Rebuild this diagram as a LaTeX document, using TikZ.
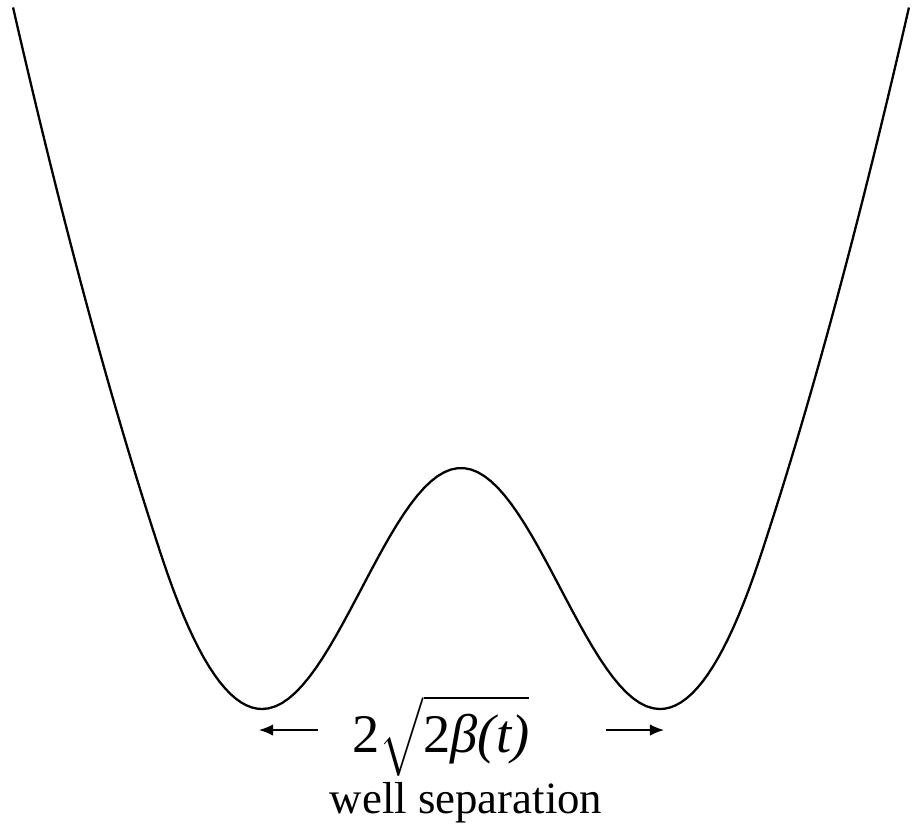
\documentclass[tikz,border=0pt]{standalone}
\usepackage{amsmath}
\usepackage{fontspec}
\setmainfont{Liberation Serif}
\usetikzlibrary{arrows.meta}

\tikzset{
  potential/.style={line width=1.3pt,black,line join=round},
  sep arrow/.style={line width=0.9pt,-{Latex[length=8pt,width=6.5pt]}},
}

\begin{document}
\begin{tikzpicture}[x=0.02cm,y={(0cm,-0.02cm)}]
    \useasboundingbox (0,0) rectangle (915,836);

    % Double well potential (wells at s=-1 and s=1, barrier at s=0)
    \draw[potential]
      plot[domain=2.251:1.5,samples=30] ({461-199*\x},{559-600*(\x-1.5)-179*(\x-1.5)*(\x-1.5)})
      -- plot[domain=1.5:1,samples=20] ({461-199*\x},{709-600*(\x-1)*(\x-1)})
      -- plot[domain=-1:1,samples=60] ({461+199*\x},{709-120.5*(1+cos(180*\x))})
      -- plot[domain=1:1.5,samples=20] ({461+199*\x},{709-600*(\x-1)*(\x-1)})
      -- plot[domain=1.5:2.251,samples=30] ({461+199*\x},{559-600*(\x-1.5)-179*(\x-1.5)*(\x-1.5)});

    % Separation label
    \node[anchor=base,inner sep=0pt,font=\fontsize{31}{36}\selectfont] (gap) at (441,752)
      {$\text{2}\sqrt{\text{2}\textit{β(t)}}$};
    \node[anchor=base,inner sep=0pt,font=\fontsize{25.5}{30}\selectfont] (caption) at (466,813)
      {well separation};

    % Arrows to the minima
    \coordinate (ltail) at (318,730);
    \coordinate (ltip) at (259,730);
    \coordinate (rtail) at (606,730);
    \coordinate (rtip) at (664,730);
    \draw[sep arrow] (ltail) -- (ltip);
    \draw[sep arrow] (rtail) -- (rtip);
\end{tikzpicture}
\end{document}
